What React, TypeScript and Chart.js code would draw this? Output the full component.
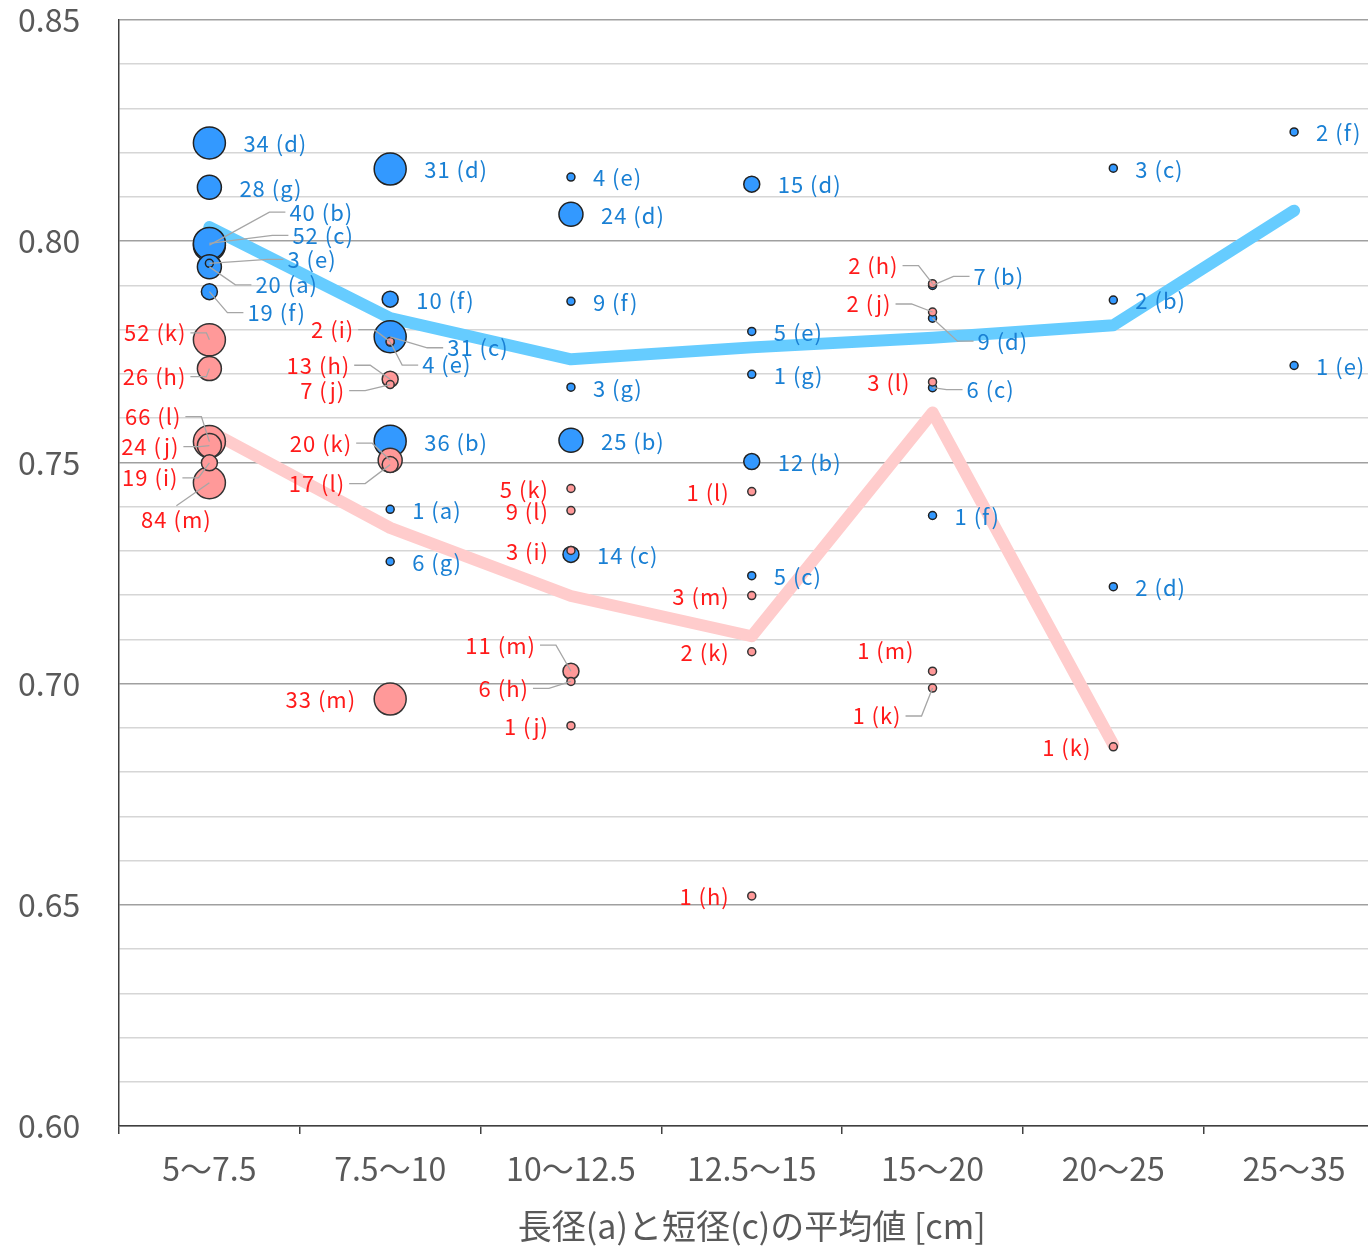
import React, { useEffect, useRef } from 'react';
import { Chart, registerables } from 'chart.js';

Chart.register(...registerables);

// ---------- data ----------
const categories = ['5〜7.5', '7.5〜10', '10〜12.5', '12.5〜15', '15〜20', '20〜25', '25〜35'];

// [category index, value, count, group letter]
const bluePoints: [number, number, number, string][] = [
  [0, 0.8222, 34, 'd'],
  [0, 0.8122, 28, 'g'],
  [0, 0.7991, 40, 'b'],
  [0, 0.7995, 52, 'c'],
  [0, 0.7942, 20, 'a'],
  [0, 0.7950, 3, 'e'],
  [0, 0.7886, 19, 'f'],
  [1, 0.8163, 31, 'd'],
  [1, 0.7869, 10, 'f'],
  [1, 0.7784, 31, 'c'],
  [1, 0.7772, 4, 'e'],
  [1, 0.7548, 36, 'b'],
  [1, 0.7394, 1, 'a'],
  [1, 0.7276, 6, 'g'],
  [2, 0.8145, 4, 'e'],
  [2, 0.8061, 24, 'd'],
  [2, 0.7864, 9, 'f'],
  [2, 0.7670, 3, 'g'],
  [2, 0.7550, 25, 'b'],
  [2, 0.7292, 14, 'c'],
  [3, 0.8129, 15, 'd'],
  [3, 0.7796, 5, 'e'],
  [3, 0.7699, 1, 'g'],
  [3, 0.7502, 12, 'b'],
  [3, 0.7244, 5, 'c'],
  [4, 0.7900, 7, 'b'],
  [4, 0.7826, 9, 'd'],
  [4, 0.7669, 6, 'c'],
  [4, 0.7380, 1, 'f'],
  [5, 0.8165, 3, 'c'],
  [5, 0.7867, 2, 'b'],
  [5, 0.7219, 2, 'd'],
  [6, 0.8247, 2, 'f'],
  [6, 0.7719, 1, 'e'],
];

const redPoints: [number, number, number, string][] = [
  [0, 0.7777, 52, 'k'],
  [0, 0.7712, 26, 'h'],
  [0, 0.7454, 84, 'm'],
  [0, 0.7547, 66, 'l'],
  [0, 0.7538, 24, 'j'],
  [0, 0.7499, 19, 'i'],
  [1, 0.7773, 2, 'i'],
  [1, 0.7688, 13, 'h'],
  [1, 0.7676, 7, 'j'],
  [1, 0.7505, 20, 'k'],
  [1, 0.7495, 17, 'l'],
  [1, 0.6965, 33, 'm'],
  [2, 0.7441, 5, 'k'],
  [2, 0.7391, 9, 'l'],
  [2, 0.7301, 3, 'i'],
  [2, 0.7028, 11, 'm'],
  [2, 0.7005, 6, 'h'],
  [2, 0.6905, 1, 'j'],
  [3, 0.7434, 1, 'l'],
  [3, 0.7199, 3, 'm'],
  [3, 0.7072, 2, 'k'],
  [3, 0.6520, 1, 'h'],
  [4, 0.7904, 2, 'h'],
  [4, 0.7840, 2, 'j'],
  [4, 0.7682, 3, 'l'],
  [4, 0.7028, 1, 'm'],
  [4, 0.6990, 1, 'k'],
  [5, 0.6857, 1, 'k'],
];

const blueAverage = [0.8032, 0.7826, 0.7733, 0.7760, 0.7782, 0.7810, 0.8069];
const redAverage = [0.7571, 0.7352, 0.7198, 0.7107, 0.7613, 0.6862, null];

const yTickValues = [0.6, 0.65, 0.7, 0.75, 0.8, 0.85];
const xTitle = '長径(a)と短径(c)の平均値 [cm]';

// ---------- label layout (pixel offsets of moved labels) ----------
// [dx, dy, align, leaderLine]
type LabelPos = [number, number, 'left' | 'right' | 'center', boolean] | null;
const blueLabelLayout: LabelPos[] = [
  null, null,
  [80, -33, 'left', true],
  [83, -8, 'left', true],
  [46, 18, 'left', true],
  [78, -4, 'left', true],
  [38, 21, 'left', true],
  null, null,
  [57, 11, 'left', true],
  [32, 23, 'left', true],
  null, null, null,
  null, null, null, null, null, null,
  null, null, null, null, null,
  [41, -9, 'left', true],
  [45, 23, 'left', true],
  [34, 2, 'left', true],
  null,
  null, null, null,
  null, null,
];
const redLabelLayout: LabelPos[] = [
  [-23, -7, 'right', true],
  [-23, 8, 'right', true],
  [-33, 37, 'center', true],
  [-28, -25, 'right', true],
  [-30, 1, 'right', true],
  [-31, 15, 'right', true],
  [-36, -12, 'right', true],
  [-40, -14, 'right', true],
  [-45, 6, 'right', true],
  [-38, -17, 'right', true],
  [-45, 19, 'right', true],
  null,
  null, null, null,
  [-35, -26, 'right', true],
  [-42, 7, 'right', true],
  null,
  null, null, null, null,
  [-34, -18, 'right', true],
  [-41, -8, 'right', true],
  null,
  [-18, -21, 'right', false],
  [-31, 28, 'right', true],
  null,
];

const BLUE_FILL = '#3399ff';
const RED_FILL = '#ff9999';
const BLUE_TEXT = '#1a80d4';
const RED_TEXT = '#ff1a1a';
const AXIS_TEXT = '#595959';
const FONT = '"Noto Sans CJK JP", "Noto Sans", sans-serif';

function radiusFor(n: number) {
  return 4 * (1 + Math.min(Math.floor(n / 10), 3));
}

const labelPlugin = {
  id: 'pointLabels',
  afterDatasetsDraw(chart: any) {
    const ctx = chart.ctx as CanvasRenderingContext2D;
    ctx.save();
    ctx.font = `22px ${FONT}`;
    try { (ctx as any).letterSpacing = '1px'; } catch (e) { /* ignore */ }
    ctx.textBaseline = 'middle';
    const groups = [
      { index: 0, pts: redPoints, layout: redLabelLayout, color: RED_TEXT, side: -1 },
      { index: 1, pts: bluePoints, layout: blueLabelLayout, color: BLUE_TEXT, side: 1 },
    ];
    groups.forEach((g) => {
      const meta = chart.getDatasetMeta(g.index);
      meta.data.forEach((el: any, i: number) => {
        const [, , n, letter] = g.pts[i];
        const r = radiusFor(n);
        const text = `${n} (${letter})`;
        const place = g.layout[i];
        let tx: number, ty: number, align: CanvasTextAlign;
        if (!place) {
          tx = el.x + g.side * (r + 18);
          ty = el.y + 1;
          align = g.side > 0 ? 'left' : 'right';
        } else {
          tx = el.x + place[0];
          ty = el.y + place[1];
          align = place[2];
          if (place[3]) {
            ctx.strokeStyle = '#a6a6a6';
            ctx.lineWidth = 1.3;
            ctx.beginPath();
            if (align === 'left') {
              ctx.moveTo(tx - 4, ty);
              ctx.lineTo(tx - 20, ty);
            } else if (align === 'right') {
              ctx.moveTo(tx + 4, ty);
              ctx.lineTo(tx + 20, ty);
            } else {
              ctx.moveTo(tx, ty - 14);
            }
            ctx.lineTo(el.x, el.y);
            ctx.stroke();
          }
        }
        ctx.fillStyle = g.color;
        ctx.textAlign = align;
        ctx.fillText(text, tx, ty);
      });
    });
    ctx.restore();
  },
};

export default function App() {
  const canvasRef = useRef<HTMLCanvasElement | null>(null);

  useEffect(() => {
    const canvas = canvasRef.current;
    if (!canvas) return;
    const toBubble = (pts: [number, number, number, string][]) =>
      pts.map(([c, v, n]) => ({ x: categories[c], y: v, r: radiusFor(n) }));

    const chart = new Chart(canvas, {
      type: 'bubble',
      data: {
        labels: categories,
        datasets: [
          {
            type: 'bubble',
            label: 'red',
            data: toBubble(redPoints) as any,
            backgroundColor: RED_FILL,
            borderColor: '#333333',
            borderWidth: 1.5,
            order: 0,
          },
          {
            type: 'bubble',
            label: 'blue',
            data: toBubble(bluePoints) as any,
            backgroundColor: BLUE_FILL,
            borderColor: '#222222',
            borderWidth: 1.5,
            order: 1,
          },
          {
            type: 'line',
            label: 'blueAvg',
            data: blueAverage as any,
            borderColor: '#66ccff',
            borderWidth: 12,
            pointRadius: 0,
            tension: 0,
            borderCapStyle: 'round',
            borderJoinStyle: 'round',
            fill: false,
            order: 2,
          } as any,
          {
            type: 'line',
            label: 'redAvg',
            data: redAverage as any,
            borderColor: '#ffcccc',
            borderWidth: 12,
            pointRadius: 0,
            tension: 0,
            borderCapStyle: 'round',
            borderJoinStyle: 'round',
            fill: false,
            spanGaps: false,
            order: 3,
          } as any,
        ],
      },
      options: {
        responsive: false,
        animation: false,
        devicePixelRatio: 1,
        events: [],
        layout: { padding: { top: 20, right: 0, bottom: 0, left: 18 } },
        plugins: {
          legend: { display: false },
          tooltip: { enabled: false },
        },
        scales: {
          x: {
            type: 'category',
            labels: categories,
            offset: true,
            grid: {
              offset: true,
              drawOnChartArea: false,
              drawTicks: true,
              tickLength: 8,
              color: '#404040',
              lineWidth: 1.5,
            },
            border: { display: true, color: '#404040', width: 1.5 },
            ticks: {
              color: AXIS_TEXT,
              font: { family: FONT, size: 32 },
              padding: 16,
              maxRotation: 0,
              autoSkip: false,
            },
            title: {
              display: true,
              text: xTitle,
              color: AXIS_TEXT,
              font: { family: FONT, size: 34 },
              padding: 0,
            },
            afterFit: (scale: any) => {
              scale.height = 120;
            },
          } as any,
          y: {
            type: 'linear',
            min: 0.6,
            max: 0.85,
            grid: {
              drawTicks: false,
              lineWidth: 1.5,
              color: (c: any) => {
                const v = Math.round(c.tick.value * 100);
                return v % 5 === 0 ? '#a0a0a0' : '#d6d6d6';
              },
            },
            border: { display: true, color: '#404040', width: 1.5 },
            ticks: {
              stepSize: 0.01,
              autoSkip: false,
              color: AXIS_TEXT,
              font: { family: FONT, size: 32 },
              padding: 0,
              crossAlign: 'far',
              callback: (value: any) => {
                const v = Number(value);
                const hit = yTickValues.find((t) => Math.abs(t - v) < 1e-6);
                return hit !== undefined ? hit.toFixed(2) : '';
              },
            },
            afterFit: (scale: any) => {
              scale.width = 101;
            },
          } as any,
        },
      },
      plugins: [labelPlugin],
    });
    return () => chart.destroy();
  }, []);

  return (
    <div
      style={{
        position: 'absolute',
        left: 0,
        top: 0,
        width: 1368,
        height: 1246,
        overflow: 'hidden',
        background: '#ffffff',
      }}
    >
      <canvas ref={canvasRef} width={1402} height={1246} style={{ display: 'block' }} />
    </div>
  );
}
